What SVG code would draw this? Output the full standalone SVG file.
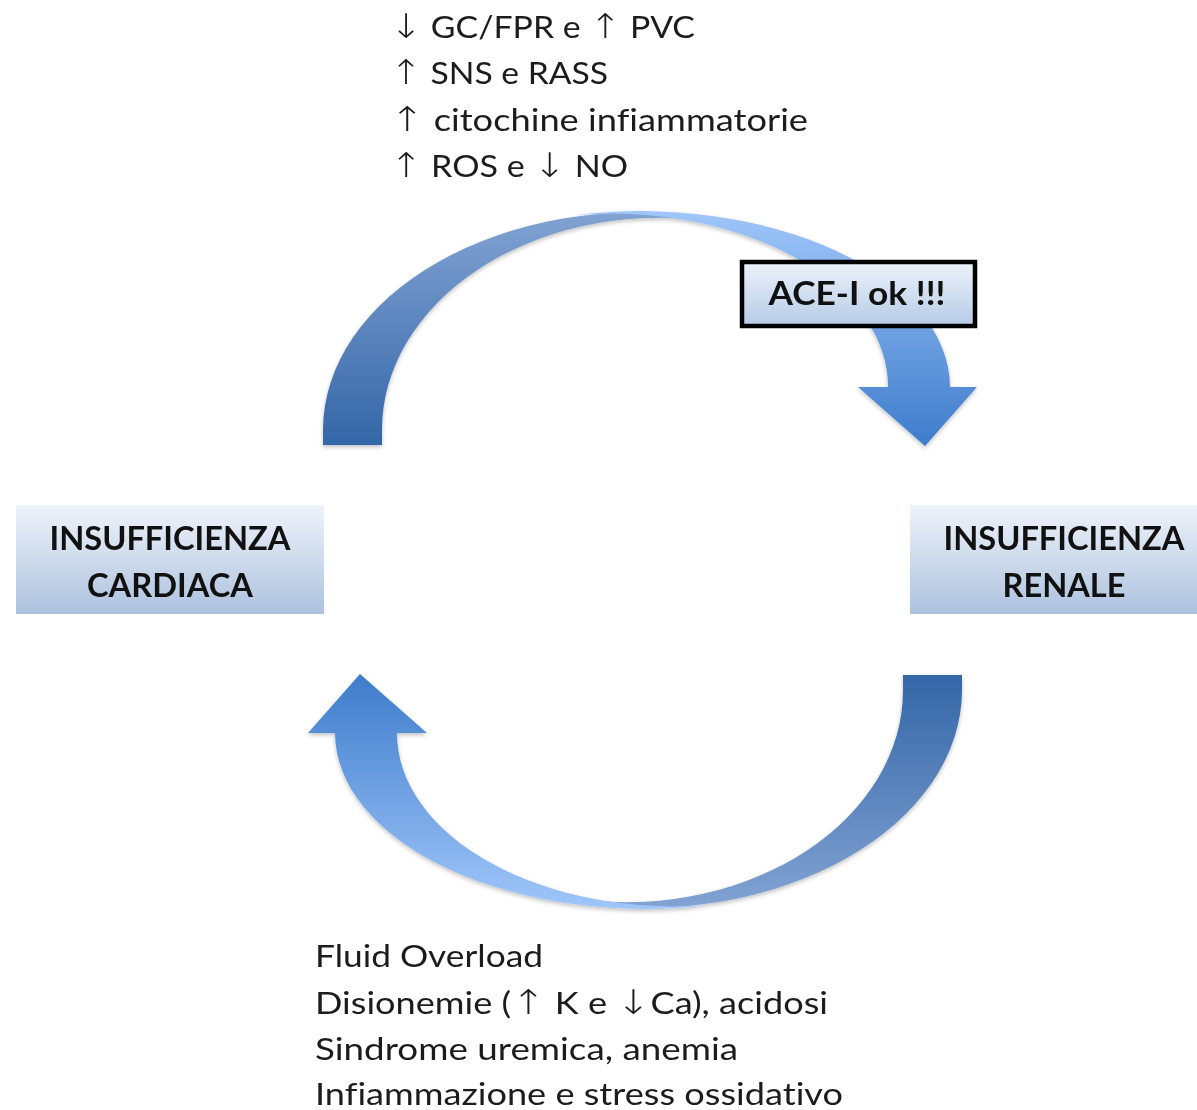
<svg xmlns="http://www.w3.org/2000/svg" width="1197" height="1110" viewBox="0 0 1197 1110">
  <style>
    text { font-variant-ligatures: none; font-feature-settings: "liga" 0, "clig" 0, "dlig" 0; }
    .note { font-family: Lato, "Open Sans", "Liberation Sans", sans-serif; font-size: 30px; fill: #1c1c1c; }
    .arr { font-family: "DejaVu Sans", sans-serif; font-weight: 200; font-size: 34px; }
    .title { font-family: Lato, "Open Sans", "Liberation Sans", sans-serif; font-size: 32px; font-weight: bold; fill: #111111; text-anchor: middle; }
  </style>
  <defs>
    <linearGradient id="boxFill" x1="0" y1="0" x2="0" y2="1">
      <stop offset="0" stop-color="#eff3fa"/>
      <stop offset="1" stop-color="#adc2de"/>
    </linearGradient>
    <linearGradient id="tagFill" x1="0" y1="0" x2="0" y2="1">
      <stop offset="0" stop-color="#edf2fa"/>
      <stop offset="1" stop-color="#b6cbe6"/>
    </linearGradient>
    <!-- curved arrow faces: back face (tail) and front face (head) -->
    <linearGradient id="backFace" gradientUnits="userSpaceOnUse" x1="0" y1="212" x2="0" y2="445">
      <stop offset="0" stop-color="#82a3d3"/>
      <stop offset="1" stop-color="#3466a7"/>
    </linearGradient>
    <linearGradient id="frontFace" gradientUnits="userSpaceOnUse" x1="0" y1="211" x2="0" y2="446">
      <stop offset="0" stop-color="#a0c6fa"/>
      <stop offset="1" stop-color="#3e7ccb"/>
    </linearGradient>
    <!-- one curved arrow, tail at left, head pointing down at right -->
    <g id="curvedArrow">
      <path fill="url(#backFace)" d="M 323,445 L 323,430 A 317,218 0 0 1 700,216 L 700,220 A 278,212 0 0 0 382,430 L 382,445 Z"/>
      <path fill="url(#frontFace)" d="M 575,215 A 310,176 0 0 1 950,387 L 977,387 L 925,446 L 858,387 L 888,387 A 278,173 0 0 0 575,215 Z"/>
    </g>
    <filter id="softShadow" x="-10%" y="-10%" width="120%" height="130%">
      <feDropShadow dx="0" dy="2" stdDeviation="2" flood-color="#000000" flood-opacity="0.25"/>
    </filter>
  </defs>

  <rect width="1197" height="1110" fill="#ffffff"/>

  <!-- curved connectors -->
  <g id="connectors" filter="url(#softShadow)">
    <use id="arrow-heart-to-kidney" href="#curvedArrow"/>
    <use id="arrow-kidney-to-heart" href="#curvedArrow" transform="rotate(180 642.5 560)"/>
  </g>

  <!-- mechanisms from heart to kidney -->
  <g id="notes-cardio-renal">
    <text class="note" x="390" y="38" textLength="305" lengthAdjust="spacingAndGlyphs"><tspan class="arr">↓</tspan> GC/FPR e <tspan class="arr">↑</tspan> PVC</text>
    <text class="note" x="390" y="84" textLength="218" lengthAdjust="spacingAndGlyphs"><tspan class="arr">↑</tspan> SNS e RASS</text>
    <text class="note" x="390" y="131" textLength="418" lengthAdjust="spacingAndGlyphs"><tspan class="arr">↑</tspan> citochine infiammatorie</text>
    <text class="note" x="390" y="177" textLength="238" lengthAdjust="spacingAndGlyphs"><tspan class="arr">↑</tspan> ROS e <tspan class="arr">↓</tspan> NO</text>
  </g>

  <!-- mechanisms from kidney to heart -->
  <g id="notes-reno-cardiac">
    <text class="note" x="315" y="967" textLength="228" lengthAdjust="spacingAndGlyphs">Fluid Overload</text>
    <text class="note" x="315" y="1014" textLength="513" lengthAdjust="spacingAndGlyphs">Disionemie (<tspan class="arr">↑</tspan> K e <tspan class="arr">↓</tspan>Ca), acidosi</text>
    <text class="note" x="315" y="1060" textLength="423" lengthAdjust="spacingAndGlyphs">Sindrome uremica, anemia</text>
    <text class="note" x="315" y="1105" textLength="528" lengthAdjust="spacingAndGlyphs">Infiammazione e stress ossidativo</text>
  </g>

  <!-- nodes -->
  <g id="node-cardiaca">
    <rect x="16" y="505" width="308" height="109" fill="url(#boxFill)"/>
    <text class="title" x="170" y="550" textLength="241" lengthAdjust="spacingAndGlyphs">INSUFFICIENZA</text>
    <text class="title" x="170" y="597" textLength="166" lengthAdjust="spacingAndGlyphs">CARDIACA</text>
  </g>
  <g id="node-renale">
    <rect x="910" y="505" width="287" height="109" fill="url(#boxFill)"/>
    <text class="title" x="1064" y="550" textLength="241" lengthAdjust="spacingAndGlyphs">INSUFFICIENZA</text>
    <text class="title" x="1064" y="597" textLength="123" lengthAdjust="spacingAndGlyphs">RENALE</text>
  </g>
  <g id="tag-ace">
    <rect x="742" y="262" width="233" height="64" fill="url(#tagFill)" stroke="#000000" stroke-width="4.5"/>
    <text class="title" x="857" y="305" textLength="177" lengthAdjust="spacingAndGlyphs">ACE-I ok !!!</text>
  </g>
</svg>
